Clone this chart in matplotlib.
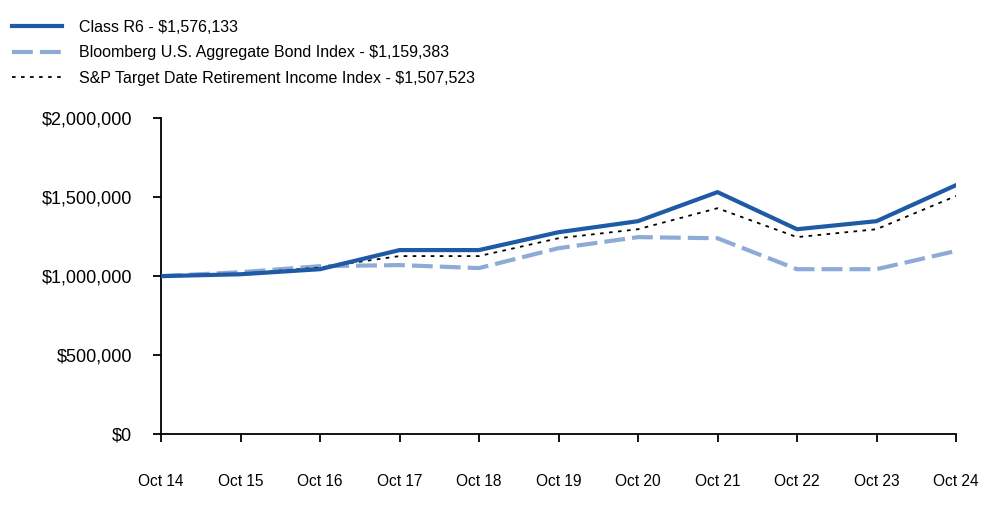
import matplotlib.pyplot as plt
from matplotlib.ticker import FuncFormatter

plt.rcParams['font.family'] = ['Liberation Sans', 'DejaVu Sans']

years = ["Oct 14", "Oct 15", "Oct 16", "Oct 17", "Oct 18", "Oct 19",
         "Oct 20", "Oct 21", "Oct 22", "Oct 23", "Oct 24"]
class_r6 = [1000000, 1012000, 1044000, 1165000, 1165000, 1278000,
            1348000, 1532000, 1297000, 1348000, 1576133]
bloomberg = [1000000, 1025000, 1063000, 1070000, 1051000, 1177000,
             1247000, 1240000, 1044000, 1044000, 1159383]
sp_target = [1000000, 1015000, 1055000, 1127000, 1127000, 1240000,
             1297000, 1430000, 1247000, 1297000, 1507523]

labels = ["Class R6 - $1,576,133",
          "Bloomberg U.S. Aggregate Bond Index - $1,159,383",
          "S&P Target Date Retirement Income Index - $1,507,523"]

fig = plt.figure(figsize=(10, 5.23), dpi=100)
ax = fig.add_axes([0.161, 0.170, 0.795, 0.604])

x = range(len(years))
ax.plot(x, class_r6, color="#1f5aa6", lw=3, label=labels[0], zorder=3)
ax.plot(x, bloomberg, color="#8eaad6", lw=3, ls=(0, (5, 1.7)), label=labels[1], zorder=2)
ax.plot(x, sp_target, color="black", lw=1.3, ls=(0, (2, 3)), label=labels[2], zorder=2.5)

ax.set_xlim(0, len(years) - 1)
ax.set_ylim(0, 2000000)
ax.set_yticks([0, 500000, 1000000, 1500000, 2000000])
ax.yaxis.set_major_formatter(FuncFormatter(lambda v, p: f"${v:,.0f}"))
ax.set_xticks(list(x))
ax.set_xticklabels(years)

for s in ["top", "right"]:
    ax.spines[s].set_visible(False)
for s in ["left", "bottom"]:
    ax.spines[s].set_linewidth(1.3)

ax.tick_params(axis="y", direction="out", length=6, width=1.3, labelsize=13, pad=15)
ax.tick_params(axis="x", direction="out", length=6, width=1.3, labelsize=11.2, pad=23)

fig.legend(loc="upper left", bbox_to_anchor=(0.012, 0.962), frameon=False,
           fontsize=11.5, handlelength=3.1, handletextpad=1.1, labelspacing=0.65,
           borderpad=0, borderaxespad=0)

fig.savefig("out.png", dpi=100)
